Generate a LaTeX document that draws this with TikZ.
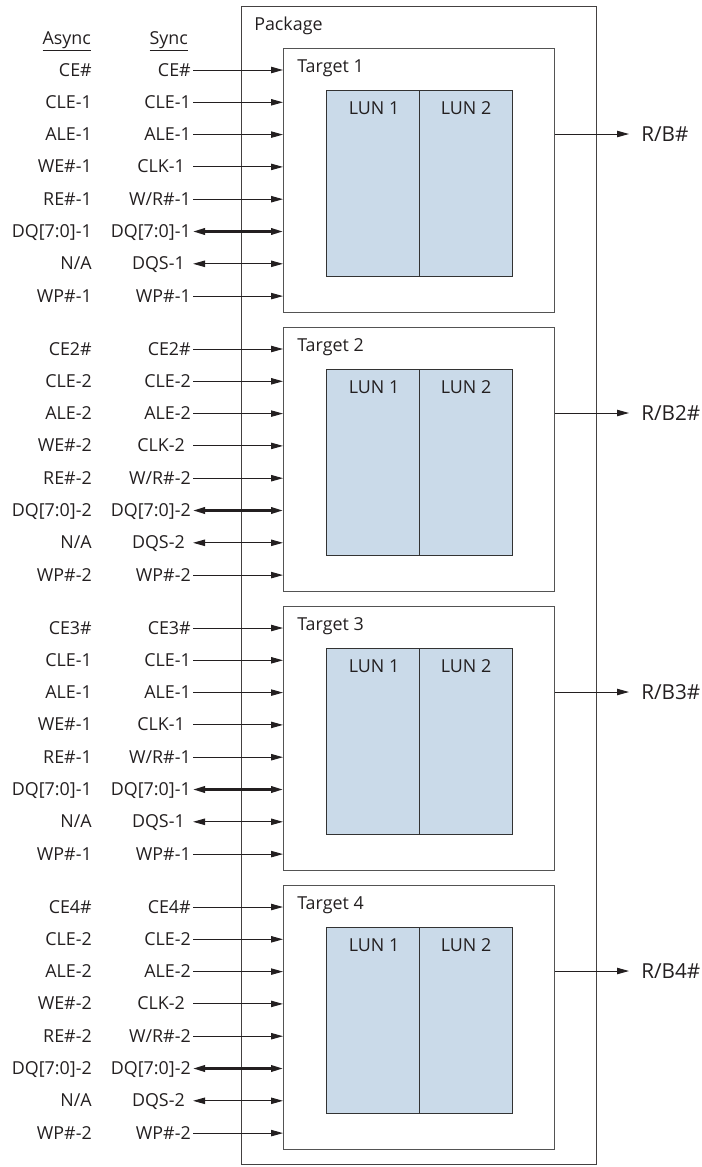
\documentclass[tikz,border=0pt]{standalone}
\usepackage{fontspec}
\setmainfont{Open Sans}
\usetikzlibrary{arrows.meta,calc}
\definecolor{lunfill}{RGB}{202,218,233}
\definecolor{ink}{RGB}{35,31,32}
\begin{document}
\begin{tikzpicture}[x=0.75pt,y=-0.75pt,
  lab/.style={font=\fontsize{13.4}{15}\selectfont, text=ink, inner sep=0pt},
  biglab/.style={font=\fontsize{15.5}{18}\selectfont, text=ink, inner sep=0pt},
  tbox/.style={draw=gray!65!black, line width=0.9pt, minimum width=203.25pt, minimum height=198pt, inner sep=0pt, anchor=north west},
  lunbox/.style={draw=gray!40!black, line width=0.8pt, fill=lunfill, minimum width=69.75pt, minimum height=139.5pt, inner sep=0pt, anchor=north west},
  pkgbox/.style={draw=ink!85, line width=0.9pt, minimum width=266.25pt, minimum height=868.5pt, inner sep=0pt, anchor=north west},
  tip/.tip={Triangle[length=9pt,width=4.8pt]},
  sig/.style={draw=ink, line width=0.75pt, -tip},
  bidir/.style={draw=ink, line width=0.75pt, tip-tip},
  bus/.style={draw=ink, line width=1.7pt, tip-tip}]
\useasboundingbox (0,0) rectangle (701,1167);
\node[pkgbox] (pkg) at (241,6) {};
\node[lab, anchor=base west] (pkglab) at (254,30) {Package};
\node[lab, anchor=base] (hasync) at (66.7,44) {\underline{Async}};
\node[lab, anchor=base] (hsync) at (168.8,44) {\underline{Sync}};
\foreach \i/\ce/\suf in {1/{CE\#}/1, 2/{CE2\#}/2, 3/{CE3\#}/1, 4/{CE4\#}/2} {
  \pgfmathsetmacro\top{48+(\i-1)*279}
  \node[tbox] (t\i) at (283,\top) {};
  \node[lab, anchor=base west] (tl\i) at (297,\top+24.7) {Target \i};
  \node[lunbox] (la\i) at (326,\top+42) {};
  \node[lunbox] (lb\i) at (419,\top+42) {};
  \node[lab, anchor=base] (lat\i) at (374,\top+66) {LUN 1};
  \node[lab, anchor=base] (lbt\i) at (466,\top+66) {LUN 2};
  \coordinate (rbe\i) at (629,\top+86);
  \node[biglab, anchor=base west] (rb\i) at (641,\top+93) {R/B\ifnum\i>1 \i\fi\#};
  \draw[sig] (t\i.east |- rbe\i) -- (rbe\i);
  \foreach \k/\as/\sy/\off/\sty in {
    0/{\ce}/{\ce}/0/sig,
    1/{CLE-\suf}/{CLE-\suf}/0/sig,
    2/{ALE-\suf}/{ALE-\suf}/0/sig,
    3/{WE\#-\suf}/{CLK-\suf}/6/sig,
    4/{RE\#-\suf}/{W/R\#-\suf}/0/sig,
    5/{DQ[7:0]-\suf}/{DQ[7:0]-\suf}/0/bus,
    6/{N/A}/{DQS-\suf}/6/bidir,
    7/{WP\#-\suf}/{WP\#-\suf}/0/sig} {
    \pgfmathsetmacro\yy{\top+22+32.3*\k}
    \pgfmathsetmacro\xs{1.5+0.75*\off}
    \node[lab, anchor=base east] (a\i-\k) at (92,\yy+6) {\as};
    \node[lab, anchor=base east] (s\i-\k) at (191-\off,\yy+6) {\sy};
    \coordinate (e\i-\k) at (283,\yy);
    \draw[\sty] ([xshift=\xs pt]s\i-\k.base east |- e\i-\k) -- (e\i-\k);
  }
}
\end{tikzpicture}
\end{document}
